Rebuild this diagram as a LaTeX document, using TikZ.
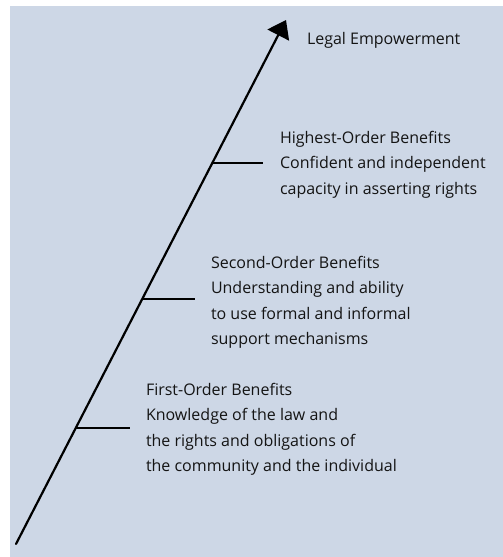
\documentclass[tikz,border=0pt]{standalone}
\usepackage{fontspec}
\setmainfont{Open Sans}
\usetikzlibrary{arrows.meta}
\definecolor{panel}{RGB}{205,215,230}
\definecolor{ink}{RGB}{20,20,20}
\begin{document}
\begin{tikzpicture}[x=1pt,y=-1pt,
  axisline/.style={line width=2.2pt, line cap=round, -{Triangle[length=17pt,width=24pt]}},
  benefittick/.style={line width=2pt},
  blocktext/.style={inner sep=0pt, outer sep=0pt, text=ink, align=left,
    font=\fontsize{16}{25.5}\selectfont}
]
\useasboundingbox (0,0) rectangle (503,557);
% panel background
\fill[panel] (10,6) rectangle (503,557);

% rising axis
\coordinate (base) at (16,544);
\coordinate (top) at (286,20);
\draw[axisline] (base) -- (top)
  coordinate[pos=0.2214] (p1)
  coordinate[pos=0.4676] (p2)
  coordinate[pos=0.7271] (p3);

% tick ends
\coordinate (e1) at (130,428);
\coordinate (e2) at (195,299);
\coordinate (e3) at (263,163);
\draw[benefittick] (p1) -- (p1 -| e1);
\draw[benefittick] (p2) -- (p2 -| e2);
\draw[benefittick] (p3) -- (p3 -| e3);

% labels (anchored on the baseline of the last line)
\node[blocktext, anchor=base west] (goal) at (307,44) {Legal Empowerment};
\node[blocktext, anchor=base west] (highest) at (280,194)
  {Highest-Order Benefits\\Confident and independent\\capacity in asserting rights};
\node[blocktext, anchor=base west] (second) at (211,344.5)
  {Second-Order Benefits\\Understanding and ability\\to use formal and informal\\support mechanisms};
\node[blocktext, anchor=base west] (first) at (146,471.5)
  {First-Order Benefits\\Knowledge of the law and\\the rights and obligations of\\the community and the individual};
\end{tikzpicture}
\end{document}
